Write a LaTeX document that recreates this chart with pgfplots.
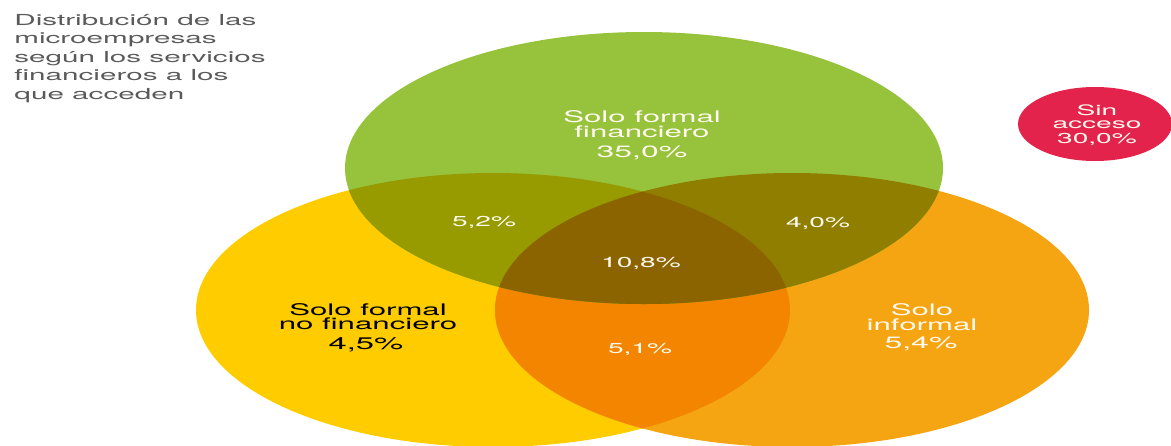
\documentclass[border=0pt]{standalone}
\usepackage{pgfplots}
\pgfplotsset{compat=1.18}
\usepackage{fontspec}
\setmainfont[FakeStretch=1.95]{TeX Gyre Heros}
\definecolor{cgreen}{HTML}{96C23C}
\definecolor{cyellow}{HTML}{FFCC00}
\definecolor{corange}{HTML}{F5A412}
\definecolor{cyo}{HTML}{F48500}
\definecolor{cgy}{HTML}{979B00}
\definecolor{cgo}{HTML}{8F7E00}
\definecolor{ctri}{HTML}{8B6400}
\definecolor{cred}{HTML}{E4234C}
\definecolor{ctitle}{HTML}{5A5A5A}
\definecolor{cwhite}{HTML}{FFFAF0}
\begin{document}
\begin{tikzpicture}
\begin{axis}[
  scale only axis, width=585.5pt, height=222.5pt,
  xmin=0, xmax=1171, ymin=0, ymax=445, y dir=reverse,
  hide axis, clip=true,
  /pgf/number format/assume math mode=true,
  /pgf/number format/.cd, fixed, fixed zerofill, precision=1, use comma,
]
% yellow and orange
\fill[cyellow] (axis cs:493,310) ellipse [x radius=297, y radius=137];
\fill[corange] (axis cs:792,310) ellipse [x radius=297, y radius=137];
\begin{scope}
\clip (axis cs:493,310) ellipse [x radius=297, y radius=137];
\fill[cyo] (axis cs:792,310) ellipse [x radius=297, y radius=137];
\end{scope}
% green
\fill[cgreen] (axis cs:644,168) ellipse [x radius=299, y radius=136];
\begin{scope}
\clip (axis cs:644,168) ellipse [x radius=299, y radius=136];
\fill[cgy] (axis cs:493,310) ellipse [x radius=297, y radius=137];
\fill[cgo] (axis cs:792,310) ellipse [x radius=297, y radius=137];
\clip (axis cs:493,310) ellipse [x radius=297, y radius=137];
\fill[ctri] (axis cs:792,310) ellipse [x radius=297, y radius=137];
\end{scope}
% red
\fill[cred] (axis cs:1095,124) ellipse [x radius=77, y radius=37];

% percentages (white)
\addplot[only marks, mark=none, point meta=explicit,
  nodes near coords={\pgfmathprintnumber{\pgfplotspointmeta}\%},
  nodes near coords style={anchor=base, text=cwhite, font=\fontsize{7.2pt}{8pt}\selectfont, inner sep=0pt}]
  coordinates {(484,226)[5.2] (641,267)[10.8] (818,227)[4.0] (640,353)[5.1] (1097,143)[30.0]};
\addplot[only marks, mark=none, point meta=explicit,
  nodes near coords={\pgfmathprintnumber{\pgfplotspointmeta}\%},
  nodes near coords style={anchor=base, text=cwhite, font=\fontsize{8.2pt}{9pt}\selectfont, inner sep=0pt}]
  coordinates {(642,157)[35.0] (921,348)[5.4]};
\addplot[only marks, mark=none, point meta=explicit,
  nodes near coords={\pgfmathprintnumber{\pgfplotspointmeta}\%},
  nodes near coords style={anchor=base, text=black, font=\fontsize{8.4pt}{9pt}\selectfont, inner sep=0pt}]
  coordinates {(366,349)[4.5]};

% category names
\begin{scope}[every node/.style={anchor=base, inner sep=0pt, font=\fontsize{8pt}{9pt}\selectfont}]
\node[text=cwhite] at (axis cs:642,122) {Solo formal};
\node[text=cwhite] at (axis cs:642,137) {financiero};
\node[text=black] at (axis cs:368,315) {Solo formal};
\node[text=black] at (axis cs:368,329) {no financiero};
\node[text=cwhite] at (axis cs:922,315) {Solo};
\node[text=cwhite] at (axis cs:922,330) {informal};
\node[text=cwhite, font=\fontsize{7.2pt}{8pt}\selectfont] at (axis cs:1097,115) {Sin};
\node[text=cwhite, font=\fontsize{7.2pt}{8pt}\selectfont] at (axis cs:1097,128) {acceso};
\end{scope}

% title
\begin{scope}[every node/.style={anchor=base west, inner sep=0pt, text=ctitle, font=\fontsize{7.6pt}{9pt}\selectfont}]
\node at (axis cs:14,25) {Distribución de las};
\node at (axis cs:14,43.5) {microempresas};
\node at (axis cs:14,62) {según los servicios};
\node at (axis cs:14,80.5) {financieros a los};
\node at (axis cs:14,99) {que acceden};
\end{scope}
\end{axis}
\pgfresetboundingbox
\useasboundingbox (current axis.south west) rectangle (current axis.north east);
\end{tikzpicture}
\end{document}
